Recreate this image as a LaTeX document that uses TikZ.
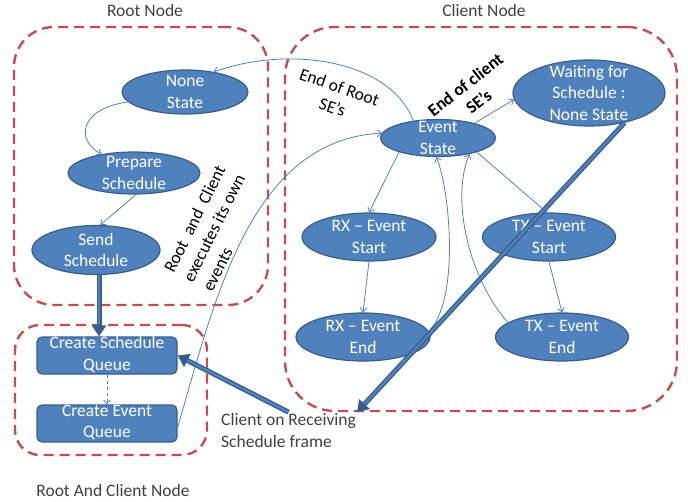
\documentclass[tikz,border=0pt]{standalone}
\usepackage{fontspec}
\setmainfont{Carlito}
\usetikzlibrary{shapes.geometric,arrows.meta}
\definecolor{ellfill}{HTML}{4F81BD}
\definecolor{elldraw}{HTML}{385D8A}
\definecolor{boxred}{HTML}{C0504D}
\definecolor{txtgray}{HTML}{404040}
\begin{document}
\begin{tikzpicture}[x=1pt,y=-1pt,
  font=\fontsize{17.5}{21.5}\selectfont,
  ell/.style={ellipse, fill=ellfill, draw=elldraw, line width=1.2pt, inner sep=0pt},
  etext/.style={text=white, align=center, inner sep=0pt},
  rbox/.style={rectangle, rounded corners=5pt, fill=ellfill, draw=elldraw, line width=1.2pt, inner sep=0pt},
  group/.style={rectangle, draw=boxred, line width=2.4pt, dash pattern=on 10pt off 6pt},
  lbl/.style={text=txtgray, inner sep=1pt},
  rot/.style={text=black, inner sep=0pt},
  flow/.style={draw=ellfill, line width=0.8pt, -{Straight Barb[length=4pt,width=7pt]}},
  bigflow/.style={draw=elldraw, line width=5pt, -{Triangle[length=11pt,width=14pt]},
     postaction={draw=ellfill, line width=2.4pt, -, shorten >=11pt}}
]
\useasboundingbox (0,0) rectangle (688,501);

% groups
\node[group, rounded corners=40pt, minimum width=254pt, minimum height=278pt] (rootgrp) at (141,166) {};
\node[group, rounded corners=50pt, minimum width=392pt, minimum height=384pt] (clientgrp) at (481,219) {};
\node[group, rounded corners=25pt, minimum width=192pt, minimum height=130pt] (rcgrp) at (111,390) {};

\node[lbl] (rootlbl) at (145,10) {Root Node};
\node[lbl] (clientlbl) at (484,10) {Client Node};
\node[lbl] (rclbl) at (113,490) {Root And Client Node};

% states
\node[ell, minimum width=126pt, minimum height=44pt, label={[etext]center:None\\State}] (ns) at (185,92) {};
\node[ell, minimum width=132pt, minimum height=42pt, label={[etext]center:Prepare\\Schedule}] (ps) at (134,173) {};
\node[ell, minimum width=128pt, minimum height=49pt, label={[etext]center:Send\\Schedule}] (ss) at (96,250) {};
\node[ell, minimum width=115pt, minimum height=37pt, label={[etext]center:Event\\State}] (es) at (438,138) {};
\node[ell, minimum width=152pt, minimum height=66pt, label={[etext]center:Waiting for\\Schedule :\\None State}] (ws) at (589,93) {};
\node[ell, minimum width=134pt, minimum height=48pt, label={[etext]center:RX -- Event\\Start}] (rxs) at (369,237) {};
\node[ell, minimum width=133pt, minimum height=48pt, label={[etext]center:TX -- Event\\Start}] (txs) at (549,237) {};
\node[ell, minimum width=134pt, minimum height=48pt, label={[etext]center:RX -- Event\\End}] (rxe) at (363,337) {};
\node[ell, minimum width=133pt, minimum height=48pt, label={[etext]center:TX -- Event\\End}] (txe) at (562,337) {};

\node[rbox, minimum width=140pt, minimum height=37pt, label={[etext,yshift=1pt]center:Create Schedule\\Queue}] (csq) at (107,355.5) {};
\node[rbox, minimum width=140pt, minimum height=37pt, label={[etext,yshift=1pt]center:Create Event\\Queue}] (ceq) at (107,423.5) {};

% texts
\node[lbl, anchor=base west, align=left] (cr) at (220,447) {Client on Receiving\\Schedule frame};
\node[rot, align=center, rotate=-19] (eor) at (336,97) {End of Root\\SE’s};
\node[rot, align=center, rotate=38, font=\fontsize{17.5}{21.5}\selectfont\bfseries] (eoc) at (472,93) {End of client\\SE’s};
\node[rot, align=left, rotate=63.5] (rce) at (214,228) {Root\ \ and\ \ Client\\executes its own\\events};

% thin connectors
\draw[flow] (es.145) .. controls (390,60) and (290,45) .. (ns.35);
\draw[flow] (ns.190) .. controls (80,108) and (75,140) .. (ps.150);
\draw[flow] (ps.275) -- (ss.80);
\draw[flow, dashed] (csq.south) -- (ceq.north);
\draw[flow] ([yshift=-4pt]ceq.east) .. controls (215,300) and (250,140) .. (es.175);
\draw[flow] (es.22) -- (ws.185);
\draw[flow] (es.200) -- (rxs.north);
\draw[flow] (es.-20) -- (txs.95);
\draw[flow] (rxs.south) -- (rxe.north);
\draw[flow] (txs.south) -- (txe.north);
\draw[flow] (rxe.5) .. controls (460,300) and (450,190) .. (es.265);
\draw[flow] (txe.165) .. controls (470,280) and (450,200) .. (es.-27);

% thick connectors
\draw[bigflow] ([xshift=3pt]ss.south) -- ([xshift=3pt]ss.south |- csq.north);
\draw[bigflow] (cr.north) -- (csq.east);
\draw[bigflow] (ws.-40) -- (cr.north east);
\end{tikzpicture}
\end{document}
